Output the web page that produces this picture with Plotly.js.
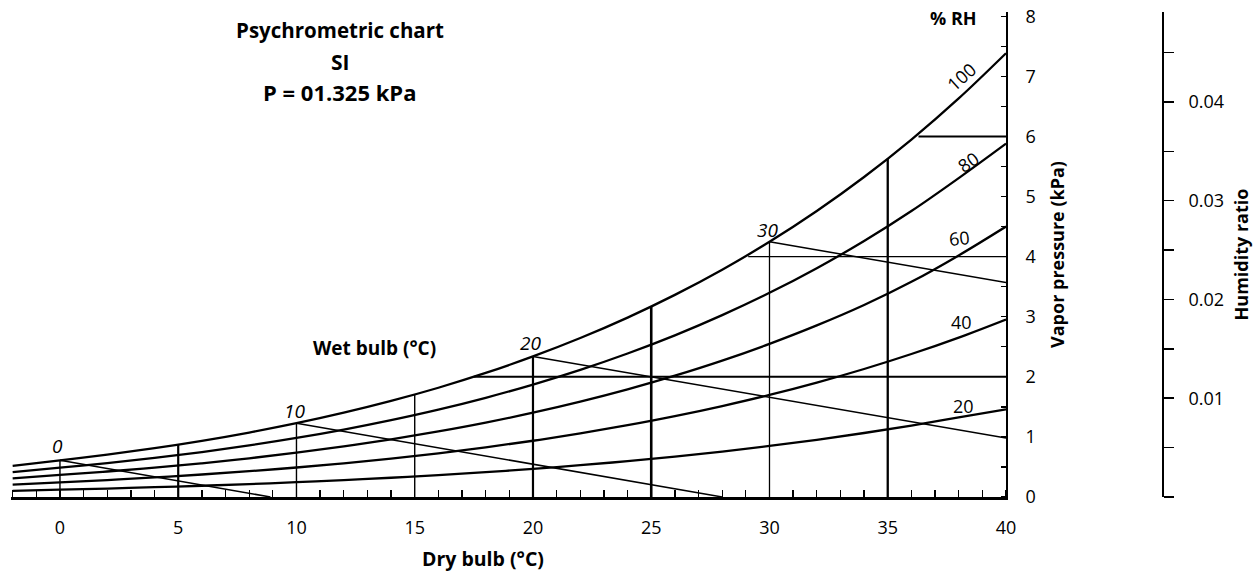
<!DOCTYPE html>
<html>
<head>
<meta charset="utf-8">
<script src="https://cdn.plot.ly/plotly-3.0.1.min.js"></script>
<style>html,body{margin:0;padding:0;background:#fff;}#chart{width:1257px;height:583px;}</style>
</head>
<body>
<div id="chart"></div>
<script>
// ---- data ----
const dryBulb = [-2, 0, 2, 4, 6, 8, 10, 12, 14, 16, 18, 20, 22, 24, 26, 28, 30, 32, 34, 36, 38, 40];
const rh100 = [0.517, 0.611, 0.706, 0.813, 0.935, 1.073, 1.228, 1.403, 1.599, 1.818, 2.064, 2.339, 2.645, 2.985, 3.363, 3.782, 4.246, 4.759, 5.324, 5.947, 6.632, 7.384];
const rh80  = [0.414, 0.489, 0.565, 0.650, 0.748, 0.858, 0.982, 1.122, 1.279, 1.454, 1.651, 1.871, 2.116, 2.388, 2.690, 3.026, 3.397, 3.807, 4.259, 4.758, 5.306, 5.880];
const rh60  = [0.310, 0.367, 0.424, 0.488, 0.561, 0.644, 0.737, 0.842, 0.959, 1.091, 1.238, 1.403, 1.587, 1.791, 2.018, 2.269, 2.548, 2.855, 3.194, 3.580, 4.020, 4.500];
const rh40  = [0.207, 0.244, 0.282, 0.325, 0.374, 0.429, 0.491, 0.561, 0.640, 0.727, 0.826, 0.936, 1.058, 1.194, 1.345, 1.513, 1.698, 1.904, 2.130, 2.379, 2.653, 2.954];
const rh20  = [0.103, 0.122, 0.141, 0.163, 0.187, 0.215, 0.246, 0.281, 0.320, 0.364, 0.413, 0.468, 0.529, 0.597, 0.673, 0.756, 0.849, 0.952, 1.065, 1.189, 1.326, 1.460];
const rhLabels = ['100', '80', '60', '40', '20'];

const dbLineTemps = [0, 5, 10, 15, 20, 25, 30, 35];
const dbLineTops  = [0.611, 0.872, 1.228, 1.705, 2.339, 3.169, 4.246, 5.628];

const vpLevels     = [2, 4, 6];
const vpStartTemps = [17.5, 29.1, 36.3];

const wbTemps    = [0, 10, 20, 30];
const wbStartVp  = [0.611, 1.228, 2.339, 4.246];
const wbEndTemps = [8.9, 28.0, 40, 40];
const wbEndVp    = [0, 0, 0.98, 3.57];

const dbTicks = [0, 5, 10, 15, 20, 25, 30, 35, 40];
const vpTicks = [0, 1, 2, 3, 4, 5, 6, 7, 8];
const wTickMarks = [0, 0.005, 0.01, 0.015, 0.02, 0.025, 0.03, 0.035, 0.04, 0.045];
const wTicks = [0, 0.01, 0.02, 0.03, 0.04];
const wTickLabels = ['0', '0.01', '0.02', '0.03', '0.04'];

const titleLines = ['Psychrometric chart', 'SI', 'P = 01.325 kPa'];

// ---- styles ----
const FONT = 'Open Sans, Noto Sans, sans-serif';
const dbLineWidths = [1.4, 2.2, 1.4, 1.4, 2.2, 2.6, 1.3, 2.3];
const vpLineWidths = [2.0, 1.3, 2.0];

const traces = [];
[rh100, rh80, rh60, rh40, rh20].forEach(function (ys) {
  traces.push({x: dryBulb, y: ys, mode: 'lines', line: {color: '#000', width: 2.3, shape: 'spline'}, hoverinfo: 'skip', showlegend: false});
});
dbLineTemps.forEach(function (t, i) {
  traces.push({x: [t, t], y: [0, dbLineTops[i]], mode: 'lines', line: {color: '#000', width: dbLineWidths[i]}, hoverinfo: 'skip', showlegend: false});
});
vpLevels.forEach(function (v, i) {
  traces.push({x: [vpStartTemps[i], 40], y: [v, v], mode: 'lines', line: {color: '#000', width: vpLineWidths[i]}, hoverinfo: 'skip', showlegend: false});
});
wbTemps.forEach(function (t, i) {
  traces.push({x: [t, wbEndTemps[i]], y: [wbStartVp[i], wbEndVp[i]], mode: 'lines', line: {color: '#000', width: 1.5}, hoverinfo: 'skip', showlegend: false});
});
traces.push({x: [], y: [], yaxis: 'y2', mode: 'lines', hoverinfo: 'skip', showlegend: false});
traces.push({x: [], y: [], yaxis: 'y3', mode: 'lines', hoverinfo: 'skip', showlegend: false});

const annotations = [];
const rhLabelPos = [[38.1, 6.99, -42], [38.4, 5.57, -35], [38.05, 4.31, -6], [38.1, 2.92, 0], [38.2, 1.52, 0]];
rhLabels.forEach(function (s, i) {
  annotations.push({x: rhLabelPos[i][0], y: rhLabelPos[i][1], xref: 'x', yref: 'y', text: s, textangle: rhLabelPos[i][2], showarrow: false, font: {family: FONT, size: 18, color: '#000'}});
});
const wbLabelPos = [[-0.1, 0.85], [9.9, 1.43], [19.9, 2.57], [29.9, 4.45]];
wbTemps.forEach(function (t, i) {
  annotations.push({x: wbLabelPos[i][0], y: wbLabelPos[i][1], xref: 'x', yref: 'y', text: '<i>' + t + '</i>', showarrow: false, font: {family: FONT, size: 19, color: '#000'}});
});
annotations.push({x: 37.8, y: 7.97, xref: 'x', yref: 'y', text: '<b>% RH</b>', showarrow: false, font: {family: FONT, size: 18, color: '#000'}});
annotations.push({x: 13.3, y: 2.48, xref: 'x', yref: 'y', text: '<b>Wet bulb (°C)</b>', showarrow: false, font: {family: FONT, size: 19, color: '#000'}});
annotations.push({x: 17.9, y: -0.126, xref: 'x', yref: 'paper', yanchor: 'middle', text: '<b>Dry bulb (°C)</b>', showarrow: false, font: {family: FONT, size: 19.5, color: '#000'}});
// second and third title lines
annotations.push({x: (340 - 11) / 1246, y: (497 - 62) / 485, xref: 'paper', yref: 'paper', xanchor: 'center', yanchor: 'middle', text: '<b>' + titleLines[1] + '</b>', showarrow: false, font: {family: FONT, size: 21, color: '#000'}});
annotations.push({x: (339 - 11) / 1246, y: (497 - 92) / 485, xref: 'paper', yref: 'paper', xanchor: 'center', yanchor: 'middle', text: '<b>' + titleLines[2] + '</b>', showarrow: false, font: {family: FONT, size: 22, color: '#000'}});

const plotW = 1246;
const layout = {
  width: 1257, height: 583,
  margin: {l: 11, r: 0, t: 12, b: 86},
  paper_bgcolor: '#fff', plot_bgcolor: '#fff',
  showlegend: false,
  font: {family: FONT, color: '#000', size: 18},
  title: {
    text: '<b>' + titleLines[0] + '</b>',
    xref: 'container', x: 340 / 1257, xanchor: 'center',
    yref: 'container', y: 1 - 31 / 583, yanchor: 'middle',
    font: {family: FONT, size: 20.5, color: '#000'}
  },
  xaxis: {
    domain: [0, 995 / plotW], range: [-2.07, 40],
    tickvals: dbTicks, ticks: '', ticklabelstandoff: 13,
    showline: true, linewidth: 2.5, linecolor: '#000',
    showgrid: false, zeroline: false,
    tickfont: {family: FONT, size: 18, color: '#000'},
    minor: {dtick: 1, tick0: 0, ticks: 'inside', ticklen: 7, tickwidth: 1.3, tickcolor: '#000', showgrid: false}
  },
  yaxis: {
    side: 'right', range: [0, 8.07],
    tickvals: vpTicks, ticks: '', ticklabelstandoff: 14,
    showline: true, linewidth: 2, linecolor: '#000',
    showgrid: false, zeroline: false,
    tickfont: {family: FONT, size: 18, color: '#000'},
    minor: {dtick: 0.5, tick0: 0, ticks: 'inside', ticklen: 5, tickwidth: 1.3, tickcolor: '#000', showgrid: false},
    title: {text: '<b>Vapor pressure (kPa)</b>', font: {family: FONT, size: 18, color: '#000'}, standoff: 17}
  },
  yaxis2: {
    overlaying: 'y', side: 'right', anchor: 'free', position: (1163 - 11) / plotW,
    range: [0, 0.0491], tickvals: wTickMarks, ticks: 'outside', ticklen: 10, tickwidth: 1.5, tickcolor: '#000',
    showticklabels: false, showline: true, linewidth: 2, linecolor: '#000',
    showgrid: false, zeroline: false
  },
  yaxis3: {
    overlaying: 'y', side: 'right', anchor: 'free', position: (1227 - 11) / plotW,
    range: [0, 0.0491], tickvals: wTicks, ticktext: wTickLabels, ticks: '',
    ticklabelposition: 'inside', showline: false,
    showgrid: false, zeroline: false,
    tickfont: {family: FONT, size: 18, color: '#000'},
    title: {text: '<b>Humidity ratio</b>', font: {family: FONT, size: 18, color: '#000'}, standoff: 12}
  },
  annotations: annotations
};

Plotly.newPlot('chart', traces, layout, {staticPlot: true, displayModeBar: false});
</script>
</body>
</html>
